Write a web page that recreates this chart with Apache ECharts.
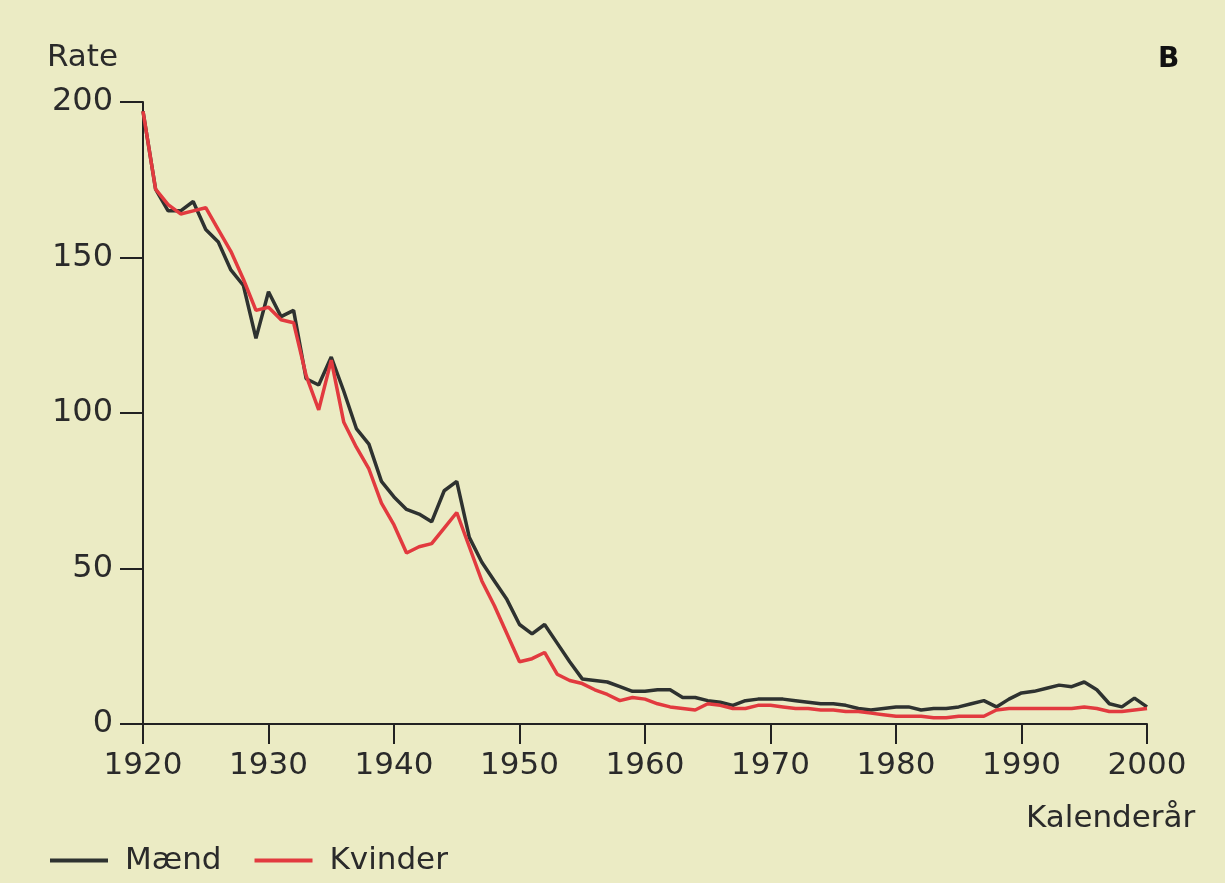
<!DOCTYPE html>
<html>
<head>
<meta charset="utf-8">
<script src="https://cdn.jsdelivr.net/npm/echarts@6/dist/echarts.min.js"></script>
<style>
html,body{margin:0;padding:0;background:#ebebc4;}
#chart{width:1225px;height:883px;}
</style>
</head>
<body>
<div id="chart"></div>
<script>
const startYear = 1920;
const xTicks = [1920, 1930, 1940, 1950, 1960, 1970, 1980, 1990, 2000];
const yTicks = [0, 50, 100, 150, 200];
const seriesNames = ['Mænd', 'Kvinder'];
const maend = [
  197,172,165,165,168,159,155,146,141,124,
  139,131,133,111,109,118,107,95,90,78,
  73,69,67.5,65,75,78,60,52,46,40,
  32,29,32,26,20,14.5,14,13.5,12,10.5,
  10.5,11,11,8.5,8.5,7.5,7,6,7.5,8,
  8,8,7.5,7,6.5,6.5,6,5,4.5,5,
  5.5,5.5,4.5,5,5,5.5,6.5,7.5,5.5,8,
  10,10.5,11.5,12.5,12,13.5,11,6.5,5.5,8.3,
  5.5
];
const kvinder = [
  197,172,167,164,165,166,159,152,143,133,
  134,130,129,112,101,117,97,89,82,71,
  64,55,57,58,63,68,57,46,38,29,
  20,21,23,16,14,13,11,9.5,7.5,8.5,
  8,6.5,5.5,5,4.5,6.5,6,5,5,6,
  6,5.5,5,5,4.5,4.5,4,4,3.5,3,
  2.5,2.5,2.5,2,2,2.5,2.5,2.5,4.5,5,
  5,5,5,5,5,5.5,5,4,4,4.5,
  5
];
const toPairs = arr => arr.map((v, i) => [startYear + i, v]);

const FONT = 'DejaVu Sans';
const TXT = '#2a2a2a';
const chart = echarts.init(document.getElementById('chart'));
chart.setOption({
  backgroundColor: '#ebebc4',
  animation: false,
  grid: {left: 143, right: 78, top: 102, bottom: 159, containLabel: false},
  xAxis: {
    type: 'value', min: xTicks[0], max: xTicks[xTicks.length - 1], interval: 10,
    axisLine: {show: true, lineStyle: {color: '#222', width: 2}},
    axisTick: {show: true, inside: false, length: 20, lineStyle: {color: '#222', width: 2}},
    splitLine: {show: false},
    axisLabel: {fontFamily: FONT, fontSize: 31, color: TXT, margin: 26, formatter: v => String(v)}
  },
  yAxis: {
    type: 'value', min: yTicks[0], max: yTicks[yTicks.length - 1], interval: 50,
    axisLine: {show: true, lineStyle: {color: '#222', width: 2}},
    axisTick: {show: true, inside: false, length: 23, lineStyle: {color: '#222', width: 2}},
    splitLine: {show: false},
    axisLabel: {fontFamily: FONT, fontSize: 32, color: TXT, margin: 30}
  },
  legend: {
    left: 45, top: 840, itemWidth: 58, itemHeight: 4, itemGap: 33,
    icon: 'rect',
    textStyle: {fontFamily: FONT, fontSize: 31, color: TXT, padding: [0, 0, 0, 12]},
    data: seriesNames
  },
  graphic: [
    {type: 'text', left: 47, top: 42, style: {text: 'Rate', font: '31px "DejaVu Sans"', fill: TXT}},
    {type: 'text', left: 1026, top: 803, style: {text: 'Kalenderår', font: '31px "DejaVu Sans"', fill: TXT}},
    {type: 'text', left: 1158, top: 46, style: {text: 'B', font: 'bold 28px "DejaVu Sans"', fill: '#111'}}
  ],
  series: [
    {name: seriesNames[0], type: 'line', data: toPairs(maend), showSymbol: false,
     lineStyle: {color: '#2e3230', width: 3.5}, itemStyle: {color: '#2e3230'}},
    {name: seriesNames[1], type: 'line', data: toPairs(kvinder), showSymbol: false,
     lineStyle: {color: '#e23a3f', width: 3.5}, itemStyle: {color: '#e23a3f'}}
  ]
});
</script>
</body>
</html>
